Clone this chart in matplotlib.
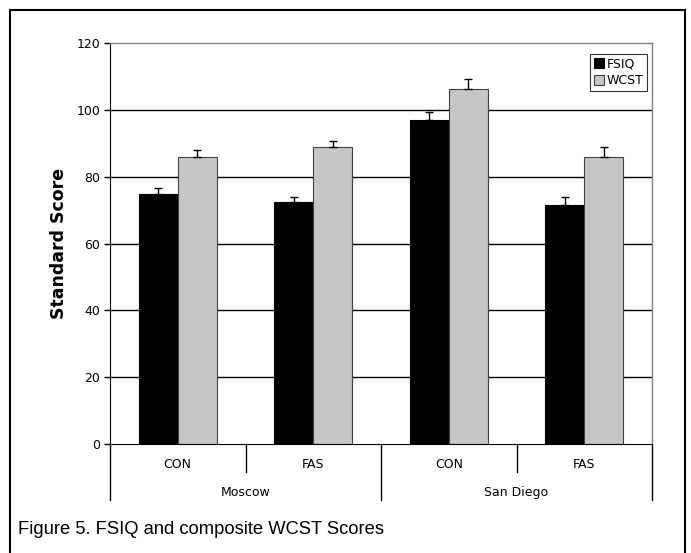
import matplotlib
matplotlib.use('Agg')
import matplotlib.pyplot as plt
from matplotlib.patches import Rectangle
import numpy as np

# values
groups = ['Moscow', 'San Diego']
conditions = ['CON', 'FAS', 'CON', 'FAS']
fsiq = [75.0, 72.4, 97.0, 71.5]
fsiq_err = [1.6, 1.6, 2.5, 2.5]
wcst = [86.0, 88.8, 106.2, 86.0]
wcst_err = [2.0, 1.9, 3.1, 3.0]
yticks = [0, 20, 40, 60, 80, 100, 120]

fig = plt.figure(figsize=(6.91, 5.53), dpi=100)
ax = fig.add_axes([110/691, 1-444/553, 542/691, 400.7/553])

x = np.arange(len(conditions))
w = 0.288
fs = 9.0

# gridlines first so bars sit on top
for t in yticks[1:-1]:
    ax.axhline(t, color='black', lw=1.0, zorder=1)

ax.bar(x - w/2, fsiq, w, color='black', edgecolor='black', lw=0.8, zorder=2, label='FSIQ')
ax.bar(x + w/2, wcst, w, color='#c6c6c6', edgecolor='#404040', lw=0.8, zorder=2, label='WCST')
ax.errorbar(x - w/2, fsiq, yerr=[np.zeros(4), fsiq_err], fmt='none', ecolor='black',
            elinewidth=1, capsize=3, capthick=1, zorder=3)
ax.errorbar(x + w/2, wcst, yerr=[np.zeros(4), wcst_err], fmt='none', ecolor='black',
            elinewidth=1, capsize=3, capthick=1, zorder=3)

ax.set_xlim(-0.5, len(conditions) - 0.5)
ax.set_ylim(0, 120)
ax.set_yticks(yticks)
ax.set_xticks([])
ax.tick_params(axis='y', direction='out', length=4, width=1, labelsize=fs, pad=3)

for s in ['top', 'right']:
    ax.spines[s].set_color('#808080')
    ax.spines[s].set_linewidth(1.0)
ax.spines['left'].set_color('black')
ax.spines['bottom'].set_color('black')

ax.set_ylabel('Standard Score', fontsize=12.5, fontweight='bold', labelpad=6)

# two-level category axis
trans = ax.get_xaxis_transform()
for i, c in enumerate(conditions):
    ax.text(i, -0.05, c, transform=trans, ha='center', va='center', fontsize=fs)
for b in [0.5, 2.5]:
    ax.plot([b, b], [0, -0.07], transform=trans, color='black', lw=1, clip_on=False)
for b in [-0.5, 1.5, 3.5]:
    ax.plot([b, b], [0, -0.14], transform=trans, color='black', lw=1, clip_on=False)
for j, g in enumerate(groups):
    ax.text(2*j + 0.5, -0.12, g, transform=trans, ha='center', va='center', fontsize=fs)

leg = ax.legend(loc='upper right', bbox_to_anchor=(0.9915, 0.974), fontsize=fs,
                frameon=True, fancybox=False, borderpad=0.3, handlelength=0.8,
                handleheight=0.8, handletextpad=0.25, labelspacing=0.3, borderaxespad=0)
leg.get_frame().set_edgecolor('black')
leg.get_frame().set_linewidth(0.8)

fig.text(18/691, 1-530/553, 'Figure 5. FSIQ and composite WCST Scores',
         family='Liberation Sans', fontsize=13.2, ha='left', va='center')

# outer box (bottom edge runs off the image)
fig.patches.append(Rectangle((10/691, -0.05), 675/691, 1.05 - 10/553, transform=fig.transFigure,
                             fill=False, edgecolor='black', lw=1.5))

fig.savefig('out.png', dpi=100)
